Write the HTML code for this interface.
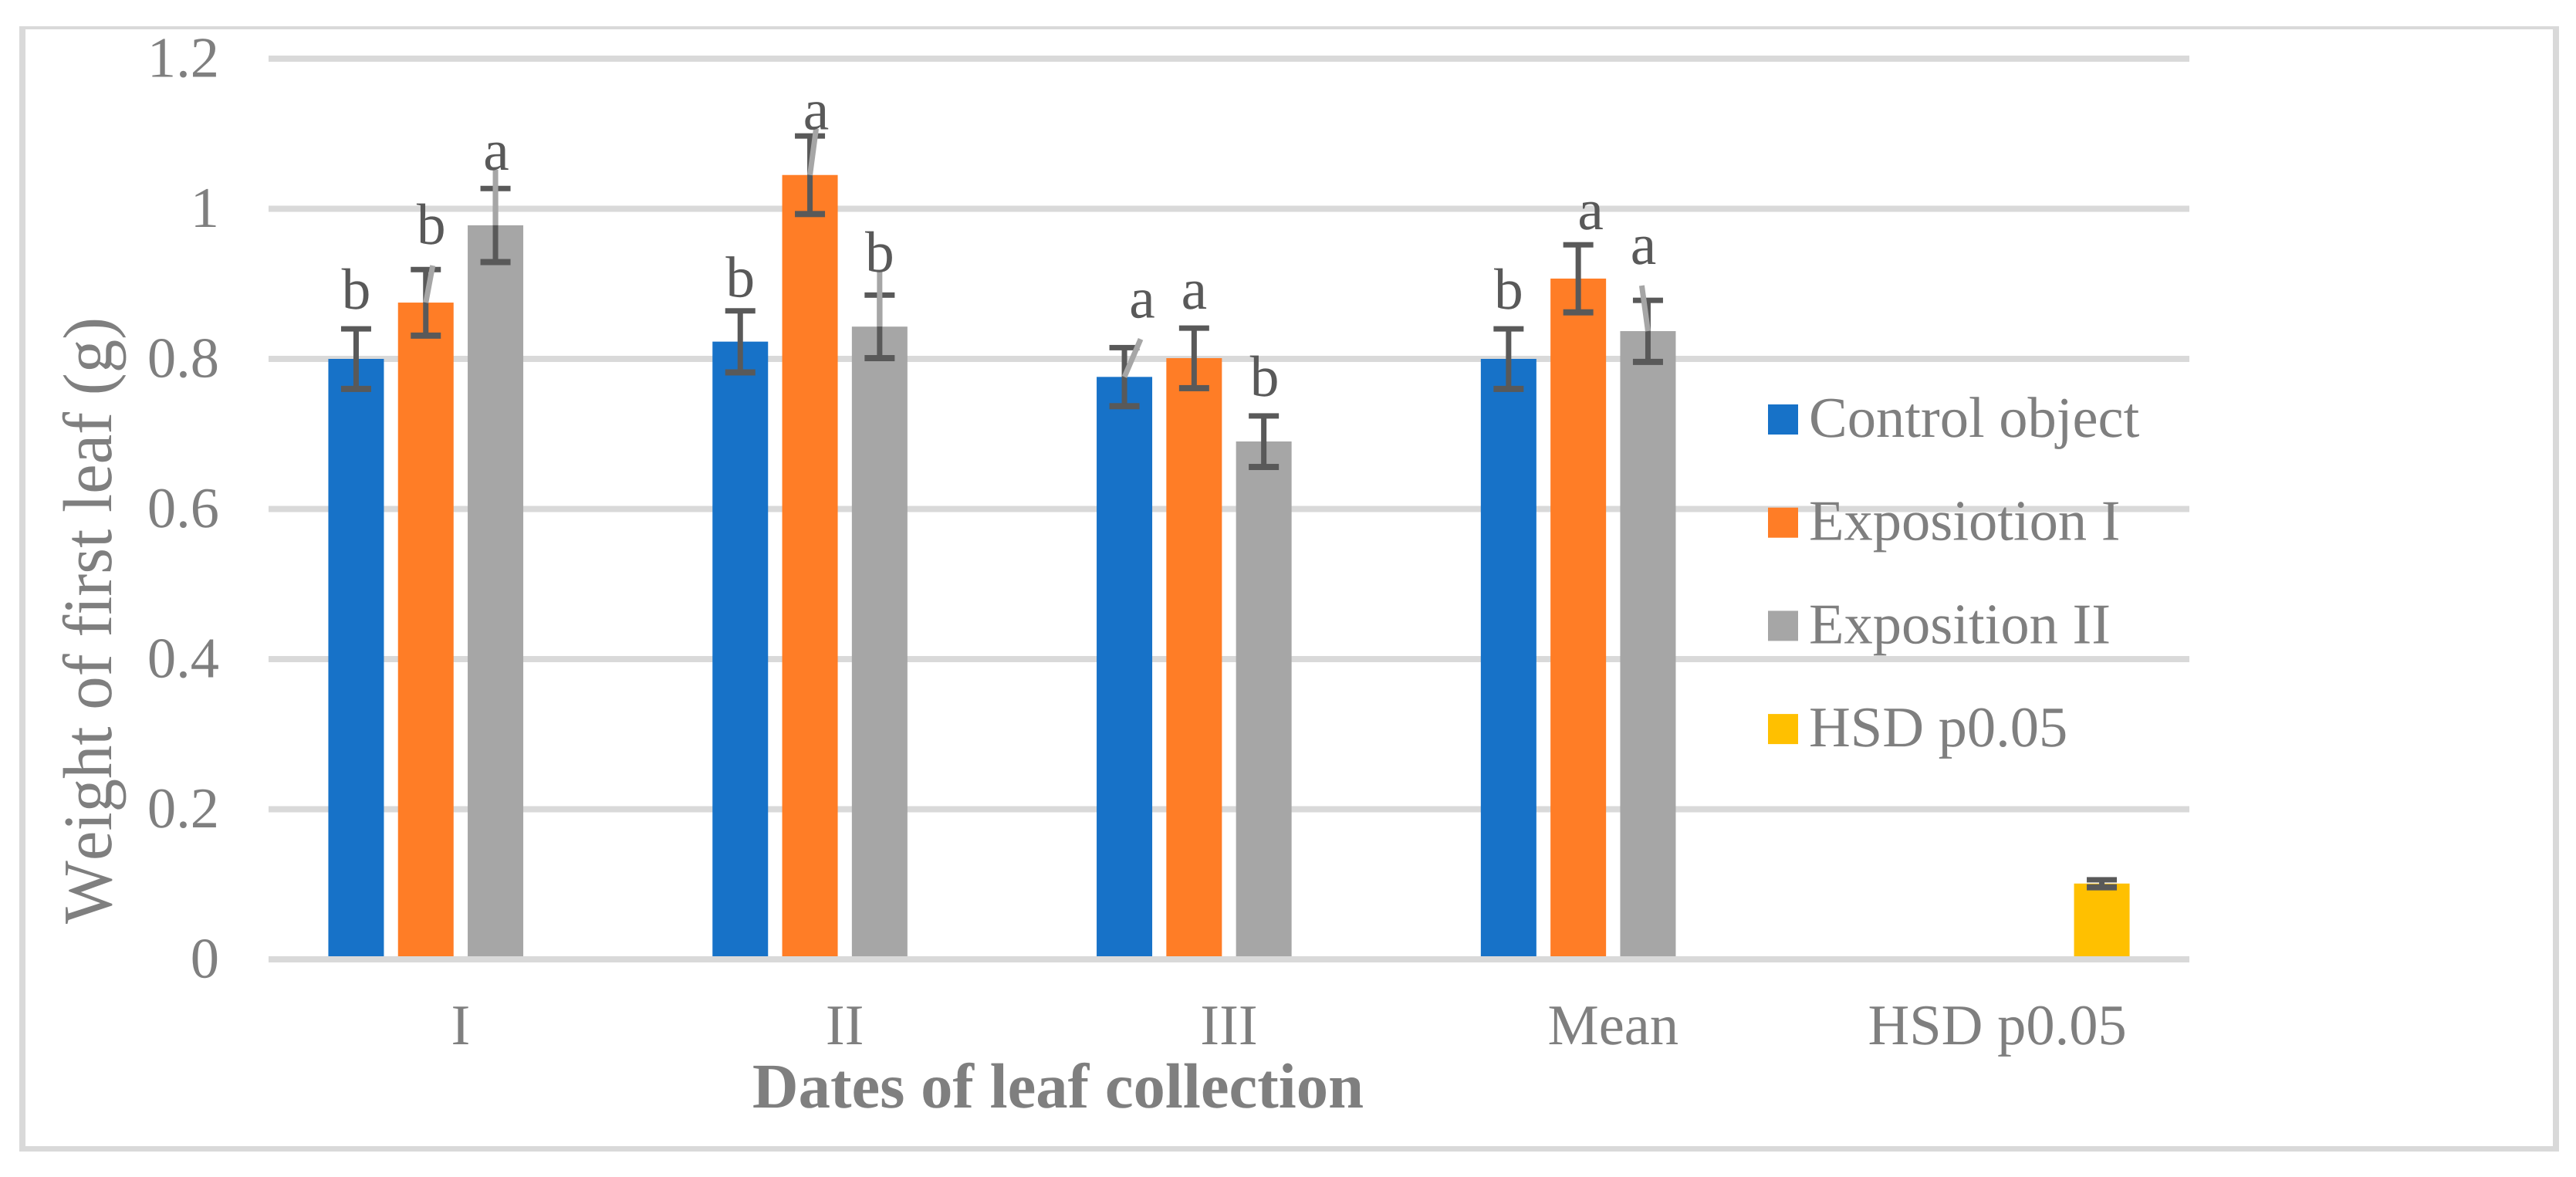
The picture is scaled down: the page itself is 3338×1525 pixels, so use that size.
<!DOCTYPE html>
<html lang="en">
<head>
<meta charset="utf-8">
<title>Weight of first leaf chart</title>
<style>
html,body{margin:0;padding:0;background:#fff;width:3338px;height:1525px;overflow:hidden}
svg{display:block}
text{font-family:"Liberation Serif","Times New Roman",serif;font-kerning:none;text-rendering:geometricPrecision}
</style>
</head>
<body>
<svg id="chart" xmlns="http://www.w3.org/2000/svg" width="3338" height="1525" viewBox="0 0 3338 1525">
  <rect x="0" y="0" width="3338" height="1525" fill="#ffffff"/>
  <path fill="#d9d9d9" fill-rule="evenodd" d="M25 34H3316V1492H25ZM33 38V1485H3308V38Z"/>
</svg>
<script>
const categories = ['I', 'II', 'III', 'Mean', 'HSD p0.05'];
const seriesNames = ['Control object', 'Exposiotion I', 'Exposition II', 'HSD p0.05'];
const controlValues = [0.8, 0.823, 0.776, 0.8, null];
const expositionOneValues = [0.875, 1.045, 0.801, 0.907, null];
const expositionTwoValues = [0.978, 0.843, 0.69, 0.837, null];
const hsdValues = [null, null, null, null, 0.101];
const controlErrors = [0.04, 0.041, 0.039, 0.04, null];
const expositionOneErrors = [0.044, 0.052, 0.04, 0.045, null];
const expositionTwoErrors = [0.049, 0.042, 0.034, 0.041, null];
const hsdErrors = [null, null, null, null, 0.005];
const controlLetters = ['b', 'b', 'a', 'b', null];
const expositionOneLetters = ['b', 'a', 'a', 'a', null];
const expositionTwoLetters = ['a', 'b', 'b', 'a', null];
const yTicks = [0, 0.2, 0.4, 0.6, 0.8, 1, 1.2];

const seriesValues = [controlValues, expositionOneValues, expositionTwoValues, hsdValues];
const seriesErrors = [controlErrors, expositionOneErrors, expositionTwoErrors, hsdErrors];
const seriesLetters = [controlLetters, expositionOneLetters, expositionTwoLetters];
const seriesColors = ['#1772c8', '#ff7d26', '#a6a6a6', '#ffc000'];

const NS = 'http://www.w3.org/2000/svg';
const svg = document.getElementById('chart');
const PLOT_LEFT = 348, PLOT_RIGHT = 2837, BASE_Y = 1243, UNIT = 972.5;
const CAT_W = (PLOT_RIGHT - PLOT_LEFT) / categories.length, PITCH = 90.3, BAR_W = 72;
const yOf = v => BASE_Y - v * UNIT;
const xOf = (c, s) => PLOT_LEFT + CAT_W * (c + 0.5) + PITCH * (s - 1.5);

function make(tag, attrs, txt) {
  const el = document.createElementNS(NS, tag);
  for (const k in attrs) el.setAttribute(k, attrs[k]);
  if (txt !== undefined) el.textContent = txt;
  svg.appendChild(el);
  return el;
}

// gridlines
yTicks.forEach(t => {
  if (t === 0) return;
  const el = make('rect', {x: PLOT_LEFT, y: yOf(t) - 4, width: PLOT_RIGHT - PLOT_LEFT, height: 8, fill: '#d9d9d9'});
  
  
});

// y tick labels
yTicks.forEach(t => {
  const el = make('text', {x: 284, y: yOf(t) + 23.5, 'text-anchor': 'end', 'font-size': 74.5, fill: '#7f7f7f'}, String(t));
  
  
});

// legend
seriesNames.forEach((n, i) => {
  const top = 524 + i * 133.7;
  const sw = make('rect', {x: 2291, y: top, width: 39, height: 39, fill: seriesColors[i]});
  
  
  const tx = make('text', {x: 2344, y: top + 42, 'font-size': 74.5, fill: '#7f7f7f'}, n);
  
  
});

// bars
seriesValues.forEach((vals, s) => {
  vals.forEach((v, c) => {
    if (v === null) return;
    const el = make('rect', {x: xOf(c, s) - BAR_W / 2, y: yOf(v), width: BAR_W, height: BASE_Y - yOf(v), fill: seriesColors[s]});
    
    
  });
});

// zero axis line
const axisLine = make('rect', {x: PLOT_LEFT, y: BASE_Y - 4, width: PLOT_RIGHT - PLOT_LEFT, height: 8, fill: '#d9d9d9'});



// error bars
seriesValues.forEach((vals, s) => {
  vals.forEach((v, c) => {
    if (v === null) return;
    const e = seriesErrors[s][c], x = xOf(c, s), hi = yOf(v + e), lo = yOf(v - e);
    const g = [
      {x: x - 3.5, y: hi, width: 7, height: lo - hi},
      {x: x - 19.5, y: hi - 3.5, width: 39, height: 7},
      {x: x - 19.5, y: lo - 4, width: 39, height: 8}
    ];
    g.forEach(a => {
      const el = make('rect', Object.assign({fill: '#595959'}, a));
      
      
    });
  });
});

// manual label placement, relative to each bar's top centre (layout only)
const labelNudge = {
  '0-0': [0, -65], '1-0': [7, -76], '2-0': [1, -72],
  '0-1': [0, -58], '1-1': [8, -59], '2-1': [0, -71],
  '0-2': [23, -77], '1-2': [0, -64], '2-2': [1, -59],
  '0-3': [0, -65], '1-3': [16, -64], '2-3': [-6, -87]
};
const leaderNudge = {
  '1-0': [9, -48], '2-0': [0, -72], '1-1': [8, -60],
  '2-1': [0, -71], '0-2': [21, -49], '2-3': [-8, -59]
};

// leader lines
Object.keys(leaderNudge).forEach(key => {
  const [s, c] = key.split('-').map(Number), n = leaderNudge[key];
  const x = xOf(c, s), y = yOf(seriesValues[s][c]);
  const el = make('line', {x1: x, y1: y, x2: x + n[0], y2: y + n[1], stroke: '#a6a6a6', 'stroke-width': 7});
  
  
});

// significance letters
seriesLetters.forEach((letters, s) => {
  letters.forEach((l, c) => {
    if (l === null) return;
    const n = labelNudge[s + '-' + c];
    const el = make('text', {x: xOf(c, s) + n[0], y: yOf(seriesValues[s][c]) + n[1], 'text-anchor': 'middle', 'font-size': 75.5, fill: '#595959'}, l);
    
    
  });
});

// category labels
categories.forEach((n, c) => {
  const el = make('text', {x: PLOT_LEFT + CAT_W * (c + 0.5), y: 1353, 'text-anchor': 'middle', 'font-size': 74.5, fill: '#7f7f7f'}, n);
  
  
});

// axis titles
const xTitle = make('text', {x: 1371, y: 1435, 'text-anchor': 'middle', 'font-size': 82.7, 'font-weight': 'bold', fill: '#7f7f7f'}, 'Dates of leaf collection');


const yTitle = make('text', {x: 0, y: 0, transform: 'translate(144 804) rotate(-90) scale(0.965 1)', 'text-anchor': 'middle', 'font-size': 90, fill: '#7f7f7f'}, 'Weight of first leaf (g)');


</script>
</body>
</html>
